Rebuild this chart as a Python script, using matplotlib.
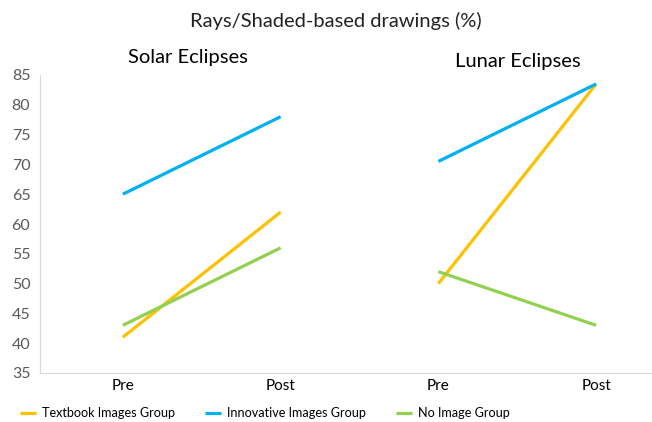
import matplotlib
matplotlib.use("Agg")
import matplotlib.pyplot as plt

# data
categories = ["Pre", "Post", "Pre", "Post"]
groups = ["Textbook Images Group", "Innovative Images Group", "No Image Group"]
solar = {"Textbook Images Group": [41, 62],
         "Innovative Images Group": [65, 78],
         "No Image Group": [43, 56]}
lunar = {"Textbook Images Group": [50, 83.5],
         "Innovative Images Group": [70.5, 83.5],
         "No Image Group": [52, 43]}
colors = {"Textbook Images Group": "#FFC000",
          "Innovative Images Group": "#00B0F0",
          "No Image Group": "#92D050"}

plt.rcParams['font.family'] = ['Lato', 'DejaVu Sans']

fig = plt.figure(figsize=(6.52, 4.22), dpi=100)
ax = fig.add_axes([40/652, 1 - 373/422, 612/652, (373-75)/422])

for g in groups:
    ax.plot([0, 1], solar[g], color=colors[g], linewidth=2.3,
            solid_capstyle='butt', label=g)
    ax.plot([2, 3], lunar[g], color=colors[g], linewidth=2.3,
            solid_capstyle='butt')

ax.set_ylim(35, 85)
ax.set_yticks(range(35, 90, 5))
ax.set_xlim(-0.525, 3.354)
ax.set_xticks(range(len(categories)))
ax.set_xticklabels(categories, fontsize=11, color='black')
ax.tick_params(axis='y', labelsize=11.5, labelcolor='#595959', length=0, pad=7)
ax.tick_params(axis='x', length=0, pad=4)
for s in ['top', 'right']:
    ax.spines[s].set_visible(False)
ax.spines['left'].set_color('#D9D9D9')
ax.spines['bottom'].set_color('#D9D9D9')

fig.text(336/652, 1 - 21/422, "Rays/Shaded-based drawings (%)", ha='center',
         va='center', fontsize=14.5, color='#222222')
fig.text(188/652, 1 - 57/422, "Solar Eclipses", ha='center', va='center',
         fontsize=14.5, color='black')
fig.text(518/652, 1 - 62/422, "Lunar Eclipses", ha='center', va='center',
         fontsize=14.5, color='black')

fig.legend(loc='center left', bbox_to_anchor=(20/652, 1 - 413/422), ncol=3,
           frameon=False, fontsize=9.1, handlelength=1.28, columnspacing=2.35,
           handletextpad=0.48, borderpad=0, borderaxespad=0)

fig.savefig("out.png", dpi=100)
